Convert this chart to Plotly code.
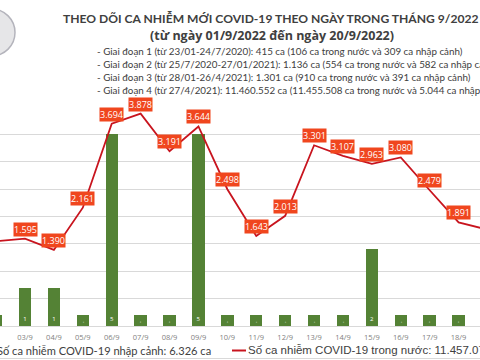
import plotly.graph_objects as go

# ---------------- data ----------------
days = ["01/9", "02/9", "03/9", "04/9", "05/9", "06/9", "07/9", "08/9", "09/9", "10/9",
        "11/9", "12/9", "13/9", "14/9", "15/9", "16/9", "17/9", "18/9", "19/9", "20/9"]
# domestic new cases (line, right axis)
domestic = [2224, 1548, 1595, 1390, 2161, 3694, 3878, 3191, 3644, 2498,
            1643, 2013, 3301, 3107, 2963, 3080, 2479, 1891, 1760, 1780]
# imported cases (bars) - heights ("-" bars show a small stub)
imported = [0.3, 0.3, 1, 1, 0.3, 5, 0.3, 0.3, 5, 0.3,
            0.3, 0.3, 0.3, 0.3, 2, 0.3, 0.3, 0.3, 0.3, 0.3]
imported_labels = ["-", "-", "1", "1", "-", "5", "-", "-", "5", "-",
                   "-", "-", "-", "-", "2", "-", "-", "-", "-", "-"]

title1 = "THEO DÕI CA NHIỄM MỚI COVID-19 THEO NGÀY TRONG THÁNG 9/2022"
title2 = "(từ ngày 01/9/2022 đến ngày 20/9/2022)"
notes = [
    "- Giai đoạn 1 (từ 23/01-24/7/2020): 415 ca (106 ca trong nước và 309 ca nhập cảnh)",
    "- Giai đoạn 2 (từ 25/7/2020-27/01/2021): 1.136 ca (554 ca trong nước và 582 ca nhập cảnh)",
    "- Giai đoạn 3 (từ 28/01-26/4/2021): 1.301 ca (910 ca trong nước và 391 ca nhập cảnh)",
    "- Giai đoạn 4 (từ 27/4/2021): 11.460.552 ca (11.455.508 ca trong nước và 5.044 ca nhập cảnh)",
]
legend_bar = "Số ca nhiễm COVID-19 nhập cảnh: 6.326 ca"
legend_line = "Số ca nhiễm COVID-19 trong nước: 11.457.075 ca"

# ---------------- style / layout helpers ----------------
W, H = 480, 360
PT, PB = 107, 326          # plot area top / bottom in pixels
PH = PB - PT

def px(x):
    return x / W

def py(y):
    return (PB - y) / PH

GREEN = "#548235"
RED_LINE = "#C8141E"
RED_BOX = "#F0461E"
TXT = "#404040"

fig = go.Figure()

fig.add_trace(go.Bar(
    x=days, y=imported, text=imported_labels,
    textposition="inside", insidetextanchor="start",
    textfont=dict(size=6, color="white", family="Open Sans"),
    marker=dict(color=GREEN, line=dict(width=0)),
    width=0.43, yaxis="y", showlegend=False, hoverinfo="skip",
))

fig.add_trace(go.Scatter(
    x=days, y=domestic, mode="lines",
    line=dict(color=RED_LINE, width=1.8),
    yaxis="y2", showlegend=False, hoverinfo="skip",
))

annotations = []
for d, v in zip(days, domestic):
    annotations.append(dict(
        x=d, y=v, xref="x", yref="y2", showarrow=False, yshift=9.5,
        text=f"{v:,}".replace(",", "."),
        font=dict(size=9, color="white", family="Open Sans"),
        bgcolor=RED_BOX, borderpad=0,
    ))

annotations.append(dict(x=px(270), y=py(18), xref="paper", yref="paper", showarrow=False,
                        text=f"<b>{title1}</b>", xanchor="center", yanchor="middle",
                        font=dict(size=12.1, color=TXT, family="Lato")))
annotations.append(dict(x=px(272), y=py(35), xref="paper", yref="paper", showarrow=False,
                        text=f"<b>{title2}</b>", xanchor="center", yanchor="middle",
                        font=dict(size=12.5, color=TXT, family="Open Sans")))
for i, n in enumerate(notes):
    annotations.append(dict(x=px(95), y=py(51 + 13 * i), xref="paper", yref="paper",
                            showarrow=False, text=n, xanchor="left", yanchor="middle",
                            font=dict(size=9.8, color=TXT, family="Lato")))

annotations.append(dict(x=px(-5), y=py(350), xref="paper", yref="paper", showarrow=False,
                        text=legend_bar, xanchor="left", yanchor="middle",
                        font=dict(size=11.1, color=TXT, family="Lato")))
annotations.append(dict(x=px(246), y=py(350), xref="paper", yref="paper", showarrow=False,
                        text=legend_line, xanchor="left", yanchor="middle",
                        font=dict(size=11.5, color=TXT, family="Liberation Sans")))

shapes = [
    dict(type="line", xref="paper", yref="paper", x0=px(232), x1=px(246),
         y0=py(350.5), y1=py(350.5), line=dict(color=RED_LINE, width=2)),
    dict(type="line", xref="paper", yref="paper", x0=0, x1=1,
         y0=py(358.5), y1=py(358.5), line=dict(color="#D9D9D9", width=1)),
    dict(type="circle", xref="paper", yref="paper", x0=px(-32), x1=px(15),
         y0=py(9), y1=py(56), fillcolor="#E6E6E8", line=dict(color="#B4B4BC", width=1.5)),
]

fig.update_layout(
    width=W, height=H,
    margin=dict(l=0, r=0, t=PT, b=H - PB, pad=0),
    paper_bgcolor="white", plot_bgcolor="white",
    bargap=0,
    xaxis=dict(type="category", range=[1.135, 17.74], showgrid=False,
               showline=True, linecolor="#D9D9D9", linewidth=1,
               ticks="outside", ticklen=4, tickcolor="rgba(0,0,0,0)",
               tickfont=dict(size=7.5, color="#7F7F7F", family="Open Sans")),
    yaxis=dict(range=[0, 40 / 7], dtick=5 / 7, tick0=0, showgrid=True,
               gridcolor="#D9D9D9", gridwidth=1, showticklabels=False,
               zeroline=False, showline=False),
    yaxis2=dict(range=[0, 4000], overlaying="y", side="right", showgrid=False,
                showticklabels=False, zeroline=False, showline=False),
    annotations=annotations,
    shapes=shapes,
)

fig.write_html("out.html", config={"displayModeBar": False},
               post_script="document.body.style.margin='0';document.body.style.overflow='hidden';")
